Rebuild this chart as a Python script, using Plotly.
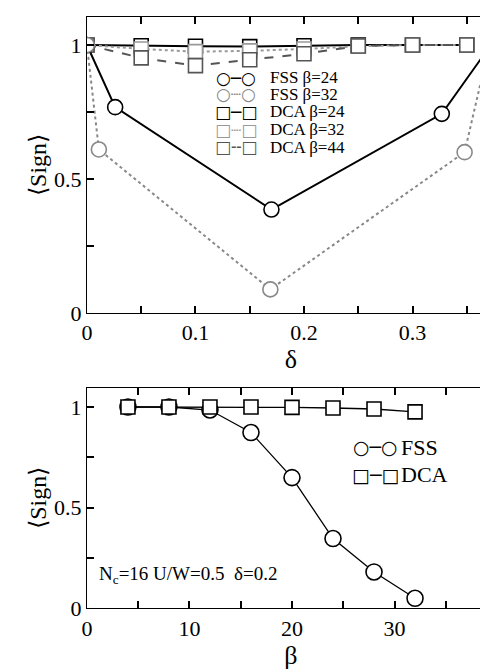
import plotly.graph_objects as go

# ---- top panel data (delta vs sign) ----
fss24_x = [0.0, 0.026, 0.170, 0.327, 0.370]
fss24_y = [1.0, 0.768, 0.386, 0.743, 0.988]
fss32_x = [0.0, 0.011, 0.169, 0.348, 0.370]
fss32_y = [1.0, 0.61, 0.088, 0.60, 0.985]
dca_x = [0.0, 0.05, 0.10, 0.15, 0.20, 0.25, 0.30, 0.35]
dca24_y = [1.0, 0.997, 0.995, 0.994, 0.997, 1.0, 1.0, 1.0]
dca32_y = [1.0, 0.985, 0.975, 0.978, 0.985, 0.995, 1.0, 1.0]
dca44_y = [1.0, 0.952, 0.923, 0.945, 0.967, 0.996, 1.0, 1.0]

# ---- bottom panel data (beta vs sign) ----
beta = [4, 8, 12, 16, 20, 24, 28, 32]
fss_b = [1.0, 1.0, 0.985, 0.873, 0.649, 0.346, 0.18, 0.049]
dca_b = [1.0, 1.0, 1.0, 1.0, 0.998, 0.995, 0.99, 0.976]

# legend labels
top_labels = ["FSS β=24", "FSS β=32", "DCA β=24", "DCA β=32", "DCA β=44"]
top_glyphs = ["○─○", "○┈○", "□─□", "□┈□", "□╌□"]
top_colors = ["black", "#888888", "black", "#999999", "#555555"]
bot_labels = ["FSS", "DCA"]
bot_glyphs = ["○─○", "□─□"]

FONT = "Liberation Serif"
GLYPH_FONT = "DejaVu Sans"
W, H = 488, 671

fig = go.Figure()

def add(x, y, name, color, dash, width, symbol, size, xa, ya):
    fig.add_trace(go.Scatter(
        x=x, y=y, name=name, mode="lines+markers",
        line=dict(color=color, dash=dash, width=width),
        marker=dict(symbol=symbol, size=size, color="white",
                    line=dict(color=color, width=1.6)),
        xaxis=xa, yaxis=ya, showlegend=False,
    ))

add(dca_x, dca24_y, "DCA β=24", "black", "solid", 2, "square", 14, "x", "y")
add(dca_x, dca32_y, "DCA β=32", "#999999", "dot", 2, "square", 14, "x", "y")
add(dca_x, dca44_y, "DCA β=44", "#555555", "dash", 2, "square", 14, "x", "y")
add(fss24_x, fss24_y, "FSS β=24", "black", "solid", 2, "circle", 15, "x", "y")
add(fss32_x, fss32_y, "FSS β=32", "#888888", "dot", 2, "circle", 15, "x", "y")

add(beta, fss_b, "FSS", "black", "solid", 1.3, "circle", 16, "x2", "y2")
add(beta, dca_b, "DCA", "black", "solid", 1.3, "square", 14, "x2", "y2")

def px_y(p):
    return (H - p) / H

def px_x(p):
    return p / W

xdom = [74 / W, 1.0]
top_dom = [px_y(311), px_y(9)]
bot_dom = [px_y(612), px_y(387)]

fig.update_layout(
    template="simple_white",
    width=W, height=H,
    margin=dict(l=0, r=0, t=0, b=0),
    font=dict(family=FONT, color="black"),
    showlegend=False,
    xaxis=dict(domain=xdom, anchor="y", range=[0, 0.376], tick0=0, dtick=0.1,
               title=dict(text="δ", font=dict(family=FONT, size=26), standoff=2)),
    yaxis=dict(domain=top_dom, anchor="x", range=[0, 1.105], tickvals=[0, 0.5, 1],
               ticktext=["0", "0.5", "1"],
               title=dict(text="⟨Sign⟩", font=dict(family=FONT, size=24), standoff=0)),
    xaxis2=dict(domain=xdom, anchor="y2", range=[0, 39.8], tick0=0, dtick=10,
                title=dict(text="β", font=dict(family=FONT, size=26), standoff=0)),
    yaxis2=dict(domain=bot_dom, anchor="x2", range=[0, 1.097], tickvals=[0, 0.5, 1],
                ticktext=["0", "0.5", "1"],
                title=dict(text="⟨Sign⟩", font=dict(family=FONT, size=24), standoff=0)),
)

fig.update_xaxes(showgrid=False, zeroline=False, showline=True, linecolor="black",
                 ticks="inside", ticklen=7, tickwidth=2, tickcolor="black", mirror="ticks",
                 tickfont=dict(family=FONT, size=22, color="black"))
fig.update_yaxes(showgrid=False, zeroline=False, showline=True, linecolor="black",
                 ticks="inside", ticklen=7, tickwidth=2, tickcolor="black", mirror="ticks",
                 tickfont=dict(family=FONT, size=22, color="black"))
fig.update_layout(
    xaxis_minor=dict(dtick=0.05, ticks="inside", ticklen=7, tickcolor="black"),
    xaxis2_minor=dict(dtick=5, ticks="inside", ticklen=7, tickcolor="black"),
    yaxis_minor=dict(tickvals=[0.25, 0.75], ticks="inside", ticklen=7, tickcolor="black"),
    yaxis2_minor=dict(tickvals=[0.25, 0.75], ticks="inside", ticklen=7, tickcolor="black"),
)

# legend drawn as text rows (glyph + label)
top_rows = [71, 88, 106, 124, 142]
for lab, gl, col, ry in zip(top_labels, top_glyphs, top_colors, top_rows):
    fig.add_annotation(x=px_x(225), y=px_y(ry), xref="paper", yref="paper",
                       text=gl, showarrow=False, xanchor="center", yanchor="middle",
                       font=dict(family=GLYPH_FONT, size=17, color=col))
    fig.add_annotation(x=px_x(258), y=px_y(ry), xref="paper", yref="paper",
                       text=lab, showarrow=False, xanchor="left", yanchor="middle",
                       font=dict(family=FONT, size=17, color="black"))

bot_rows = [448, 476]
for lab, gl, ry in zip(bot_labels, bot_glyphs, bot_rows):
    fig.add_annotation(x=px_x(367), y=px_y(ry), xref="paper", yref="paper",
                       text=gl, showarrow=False, xanchor="center", yanchor="middle",
                       font=dict(family=GLYPH_FONT, size=19, color="black"))
    fig.add_annotation(x=px_x(391), y=px_y(ry), xref="paper", yref="paper",
                       text=lab, showarrow=False, xanchor="left", yanchor="middle",
                       font=dict(family=FONT, size=22, color="black"))

fig.add_annotation(
    x=0.025, y=0.15, xref="x2 domain", yref="y2 domain",
    text="N<sub>c</sub>=16 U/W=0.5  δ=0.2", showarrow=False,
    xanchor="left", yanchor="middle",
    font=dict(family=FONT, size=19, color="black"),
)

fig.write_html("out.html")
